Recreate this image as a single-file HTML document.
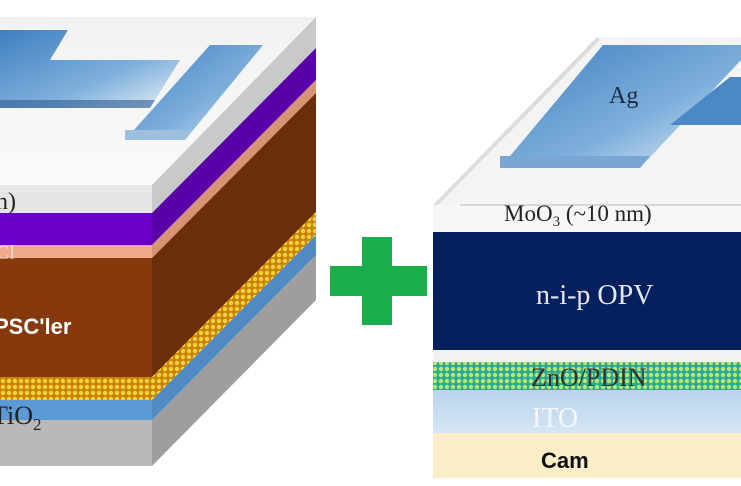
<!DOCTYPE html>
<html><head><meta charset="utf-8"><style>
html,body{margin:0;padding:0;background:#fff;width:741px;height:486px;overflow:hidden}
svg{display:block}
</style></head><body>
<svg width="741" height="486" viewBox="0 0 741 486" xmlns="http://www.w3.org/2000/svg">
<defs>
<pattern id="yd" width="6" height="6" patternUnits="userSpaceOnUse">
<rect width="6" height="6" fill="#c9820a"/><circle cx="3" cy="3" r="2.2" fill="#f4d33a"/></pattern>
<pattern id="gd" width="6" height="6" patternUnits="userSpaceOnUse">
<rect width="6" height="6" fill="#2aa89a"/><circle cx="3" cy="3" r="2.2" fill="#b8e86a"/></pattern>
<linearGradient id="el" x1="0" y1="0" x2="1" y2="1">
<stop offset="0" stop-color="#3f7fc0"/><stop offset="0.6" stop-color="#7fb0dc"/><stop offset="1" stop-color="#e8f0f8"/></linearGradient>
<linearGradient id="top" x1="0" y1="0" x2="0" y2="1">
<stop offset="0" stop-color="#f2f2f2"/><stop offset="1" stop-color="#fafafa"/></linearGradient>
<linearGradient id="ito" x1="0" y1="0" x2="0" y2="1">
<stop offset="0" stop-color="#b9d3ec"/><stop offset="1" stop-color="#d6e6f4"/></linearGradient>
</defs>

<polygon points="0,17 316,17 152,185 0,185" fill="url(#top)"/>
<polygon points="316,17 316,48 152,213 152,185" fill="#c9c9c9"/>
<polygon points="0,30 68,30 50,60 180,60 150,108 0,108" fill="url(#el)"/>
<polygon points="0,100 155,100 150,108 0,108" fill="#2e5d93" opacity="0.6"/>
<polygon points="210,45 263,45 185,140 125,140" fill="url(#el)"/>
<polygon points="125,130 190,130 185,140 125,140" fill="#9dbfe0"/>
<rect x="0" y="185" width="152" height="28" fill="#e6e6e6"/>
<rect x="0" y="213" width="152" height="32" fill="#6a00c8"/>
<rect x="0" y="245" width="152" height="13" fill="#f1a98a"/>
<rect x="0" y="258" width="152" height="119" fill="#86390c"/>
<rect x="0" y="377" width="152" height="23" fill="url(#yd)"/>
<rect x="0" y="400" width="152" height="20" fill="#5b9ad6"/>
<rect x="0" y="420" width="152" height="46" fill="#b9b9b9"/>
<polygon points="152,213 316,48 316,80 152,245" fill="#5a00a8"/>
<polygon points="152,245 316,80 316,93 152,258" fill="#d89274"/>
<polygon points="152,258 316,93 316,212 152,377" fill="#6c2e08"/>
<polygon points="152,377 316,212 316,235 152,400" fill="url(#yd)"/>
<polygon points="152,400 316,235 316,255 152,420" fill="#4f8ac2"/>
<polygon points="152,420 316,255 316,300 152,466" fill="#9e9e9e"/>
<text x="-4" y="209" font-family="Liberation Serif,serif" font-size="24" fill="#222">n)</text>
<text x="-4" y="259" font-family="Liberation Serif,serif" font-size="20" fill="#fff" opacity="0.6">Cl</text>
<text x="-6" y="334" font-family="Liberation Sans,sans-serif" font-size="22" font-weight="bold" fill="#fff">PSC'ler</text>
<text x="-8" y="424" font-family="Liberation Serif,serif" font-size="26" fill="#222">TiO<tspan font-size="17" dy="6">2</tspan></text>

<rect x="362" y="237" width="30" height="88" fill="#19ad4c"/>
<rect x="330" y="266" width="97" height="30" fill="#19ad4c"/>

<polygon points="597,37 741,37 741,205 433,205" fill="#f4f4f4"/>
<polygon points="433,205 597,37 600,40 438,205" fill="#dcdcdc"/>
<polygon points="500,168 603,45 741,45 741,60 640,168" fill="url(#el)"/>
<polygon points="500,156 650,156 640,168 500,168" fill="#7aa6d4"/>
<polygon points="670,125 730,77 741,77 741,125" fill="#4d88c6"/>
<text x="609" y="103" font-family="Liberation Serif,serif" font-size="24" fill="#1a2a40">Ag</text>
<rect x="433" y="205" width="308" height="27" fill="#f7f7f7"/>
<line x1="460" y1="205" x2="741" y2="205" stroke="#bbb" stroke-width="1"/>
<text x="504" y="221" font-family="Liberation Serif,serif" font-size="23" fill="#222">MoO<tspan font-size="15" dy="5">3</tspan><tspan dy="-5"> (~10 nm)</tspan></text>
<rect x="433" y="232" width="308" height="118" fill="#06205e"/>
<text x="536" y="304" font-family="Liberation Serif,serif" font-size="28" fill="#e6e6f0">n-i-p OPV</text>
<rect x="433" y="350" width="308" height="12" fill="#f2f2f2"/>
<rect x="433" y="362" width="308" height="28" fill="url(#gd)"/>
<text x="531" y="386" font-family="Liberation Serif,serif" font-size="26" fill="#333">ZnO/PDIN</text>
<rect x="433" y="390" width="308" height="43" fill="url(#ito)"/>
<text x="532" y="427" font-family="Liberation Serif,serif" font-size="28" fill="#f4f8fc">ITO</text>
<rect x="433" y="433" width="308" height="45" fill="#fbedc8"/>
<text x="541" y="468" font-family="Liberation Sans,sans-serif" font-size="22" font-weight="bold" fill="#111">Cam</text>
</svg>
</body></html>
